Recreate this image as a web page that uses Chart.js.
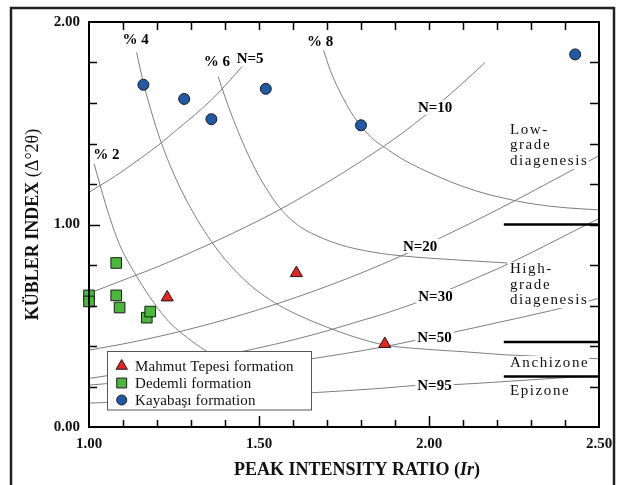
<!DOCTYPE html>
<html>
<head>
<meta charset="utf-8">
<script src="https://cdn.jsdelivr.net/npm/chart.js@4.4.1/dist/chart.umd.min.js"></script>
<style>
  html, body { margin: 0; padding: 0; background: #fff; }
  #wrap { position: relative; width: 623px; height: 485px; }
</style>
</head>
<body>
<div id="wrap"><canvas id="kubler"></canvas></div>
<script>
// Samples: peak intensity ratio (Ir) against Kübler index
const mahmutIr = [1.23, 1.61, 1.87];
const mahmutKi = [0.64, 0.76, 0.41];
const dedemliIr = [1.00, 1.00, 1.08, 1.08, 1.09, 1.17, 1.18];
const dedemliKi = [0.65, 0.62, 0.81, 0.65, 0.59, 0.54, 0.57];
const kayabasiIr = [1.16, 1.28, 1.36, 1.52, 1.80, 2.43];
const kayabasiKi = [1.69, 1.62, 1.52, 1.67, 1.49, 1.84];

// Crystallite thickness lines (N = layers)
const lineN5 = [[1.00,1.16],[1.05,1.21],[1.10,1.265],[1.15,1.325],[1.21,1.40],[1.26,1.47],[1.31,1.54],[1.36,1.615],[1.40,1.685],[1.45,1.78]];
const lineN10 = [[1.00,0.66],[1.10,0.725],[1.20,0.79],[1.35,0.90],[1.50,1.02],[1.57,1.082],[1.65,1.158],[1.735,1.243],[1.80,1.312],[1.87,1.39],[1.93,1.462],[1.98,1.527],[2.02,1.582],[2.07,1.655],[2.12,1.73],[2.165,1.80]];
const lineN20 = [[1.00,0.38],[1.10,0.41],[1.20,0.445],[1.30,0.485],[1.40,0.53],[1.50,0.58],[1.60,0.635],[1.70,0.695],[1.80,0.76],[1.86,0.802],[1.92,0.846],[1.97,0.884],[2.03,0.931],[2.10,0.988],[2.20,1.072],[2.30,1.16],[2.415,1.263],[2.50,1.34]];
const lineN30 = [[1.00,0.24],[1.10,0.265],[1.20,0.29],[1.30,0.32],[1.40,0.355],[1.49,0.387],[1.60,0.43],[1.70,0.475],[1.80,0.525],[1.87,0.56],[1.96,0.612],[2.02,0.65],[2.075,0.69],[2.20,0.78],[2.30,0.86],[2.40,0.945],[2.50,1.03]];
const lineN50 = [[1.00,0.207],[1.20,0.235],[1.40,0.27],[1.55,0.305],[1.655,0.337],[1.75,0.362],[1.87,0.397],[1.96,0.428],[2.02,0.45],[2.07,0.467],[2.20,0.515],[2.36,0.575],[2.47,0.622],[2.50,0.636]];
const lineN95 = [[1.00,0.118],[1.20,0.13],[1.40,0.145],[1.655,0.169],[1.86,0.191],[1.96,0.205],[2.07,0.209],[2.20,0.222],[2.30,0.233],[2.42,0.246],[2.50,0.25]];

// Percentage lines
const linePct2 = [[1.015,1.30],[1.035,1.18],[1.06,1.04],[1.09,0.90],[1.14,0.745],[1.19,0.615],[1.235,0.52],[1.29,0.44],[1.34,0.38],[1.42,0.31],[1.50,0.26]];
const linePct4 = [[1.14,1.85],[1.16,1.70],[1.19,1.52],[1.22,1.37],[1.26,1.21],[1.30,1.078],[1.34,0.966],[1.38,0.87],[1.42,0.79],[1.46,0.722],[1.50,0.666],[1.56,0.60],[1.62,0.549],[1.70,0.493],[1.78,0.445],[1.87,0.405],[2.00,0.383],[2.10,0.372],[2.23,0.356],[2.50,0.337]];
const linePct6 = [[1.38,1.73],[1.40,1.63],[1.43,1.495],[1.46,1.375],[1.49,1.27],[1.53,1.155],[1.57,1.065],[1.62,0.99],[1.69,0.93],[1.76,0.89],[1.86,0.857],[1.92,0.845],[2.00,0.834],[2.10,0.823],[2.23,0.81]];
const linePct8 = [[1.69,1.86],[1.71,1.76],[1.735,1.665],[1.78,1.53],[1.83,1.43],[1.87,1.38],[1.93,1.315],[1.99,1.265],[2.06,1.213],[2.14,1.165],[2.22,1.13],[2.30,1.103],[2.40,1.083],[2.50,1.072]];

const curveLabels = ['% 2', '% 4', '% 6', '% 8', 'N=5', 'N=10', 'N=20', 'N=30', 'N=50', 'N=95'];
const curveLabelAt = [[1.051,1.35],[1.137,1.916],[1.376,1.805],[1.680,1.906],[1.474,1.820],[2.018,1.578],[1.974,0.894],[2.019,0.647],[2.016,0.442],[2.016,0.205]];

// Zone limits (KI) and names
const zoneLimits = [1.00, 0.42, 0.25];
const zoneFrom = 2.22;
const zoneNames = [['Low-', 'grade', 'diagenesis'], ['High-', 'grade', 'diagenesis'], ['Anchizone'], ['Epizone']];
const zoneNameAt = [[2.238,1.447],[2.238,0.760],[2.238,0.296],[2.238,0.158]];

const serif = "'Liberation Serif', 'Times New Roman', serif";
const curveColor = '#7d7d7d';

const pts = pairs => pairs.map(p => ({ x: p[0], y: p[1] }));
const zip = (xs, ys) => xs.map((x, i) => ({ x: x, y: ys[i] }));
const isHalf = v => Math.abs(v * 2 - Math.round(v * 2)) < 1e-6;
const isWhole = v => Math.abs(v - Math.round(v)) < 1e-6;

const curves = [lineN5, lineN10, lineN20, lineN30, lineN50, lineN95, linePct2, linePct4, linePct6, linePct8].map(c => ({
    data: pts(c),
    showLine: true,
    borderColor: curveColor,
    borderWidth: 1,
    pointRadius: 0,
    cubicInterpolationMode: 'monotone'
}));

const zones = zoneLimits.map(v => ({
    data: [{ x: zoneFrom, y: v }, { x: 2.5, y: v }],
    showLine: true,
    borderColor: '#000',
    borderWidth: 2.5,
    pointRadius: 0
}));

const samples = [
    { label: 'Mahmut Tepesi formation', data: zip(mahmutIr, mahmutKi), pointStyle: 'triangle', pointRadius: 7,
      backgroundColor: '#e5231f', borderColor: '#1a1a1a', borderWidth: 1, clip: false },
    { label: 'Dedemli formation', data: zip(dedemliIr, dedemliKi), pointStyle: 'rect', pointRadius: 7.5,
      backgroundColor: '#49b83b', borderColor: '#1a1a1a', borderWidth: 1, clip: false },
    { label: 'Kayabaşı formation', data: zip(kayabasiIr, kayabasiKi), pointStyle: 'circle', pointRadius: 5.5,
      backgroundColor: '#1f5aa8', borderColor: '#1a1a1a', borderWidth: 1, clip: false }
];

const decor = {
    id: 'decor',
    afterDatasetsDraw(chart) {
        const ctx = chart.ctx, sx = chart.scales.x, sy = chart.scales.y;
        ctx.save();

        // captions on the curves, lines broken behind them
        ctx.font = `bold 15px ${serif}`;
        ctx.textAlign = 'center';
        ctx.textBaseline = 'middle';
        curveLabels.forEach((t, i) => {
            const px = sx.getPixelForValue(curveLabelAt[i][0]);
            const py = sy.getPixelForValue(curveLabelAt[i][1]);
            const w = ctx.measureText(t).width;
            ctx.fillStyle = '#fff';
            ctx.fillRect(px - w / 2 - 2, py - 7, w + 4, 14);
            ctx.fillStyle = '#000';
            ctx.fillText(t, px, py + 1);
        });

        // zone names
        ctx.font = `15px ${serif}`;
        ctx.letterSpacing = '1.6px';
        ctx.textAlign = 'left';
        ctx.textBaseline = 'alphabetic';
        zoneNames.forEach((lines, i) => {
            const px = sx.getPixelForValue(zoneNameAt[i][0]);
            let py = sy.getPixelForValue(zoneNameAt[i][1]);
            lines.forEach(t => {
                const w = ctx.measureText(t).width;
                ctx.fillStyle = '#fff';
                ctx.fillRect(px - 2, py - 11, w + 2, 15);
                ctx.fillStyle = '#111';
                ctx.fillText(t, px, py);
                py += 15.5;
            });
        });
        ctx.letterSpacing = '0px';

        // legend box
        const lx = 107.5, ly = 351.5, lw = 204, lh = 58.5;
        ctx.fillStyle = '#fff';
        ctx.fillRect(lx, ly, lw, lh);
        ctx.strokeStyle = '#555';
        ctx.lineWidth = 1;
        ctx.strokeRect(lx, ly, lw, lh);
        ctx.font = `15px ${serif}`;
        ctx.letterSpacing = '0.1px';
        ctx.textBaseline = 'middle';
        chart.data.datasets.slice(0, 3).forEach((ds, i) => {
            const cy = 366 + i * 17;
            ctx.fillStyle = ds.backgroundColor;
            ctx.strokeStyle = ds.borderColor;
            ctx.lineWidth = 1;
            Chart.helpers.drawPoint(ctx, { pointStyle: ds.pointStyle, radius: ds.pointRadius - 0.5, borderWidth: 1, rotation: 0 }, 121.7, cy);
            ctx.fillStyle = '#111';
            ctx.fillText(ds.label, 135, cy + 1);
        });
        ctx.restore();
    },
    afterDraw(chart) {
        const ctx = chart.ctx, ca = chart.chartArea, sx = chart.scales.x, sy = chart.scales.y;
        ctx.save();

        // plot frame and inward ticks
        ctx.strokeStyle = '#000';
        ctx.lineWidth = 2;
        ctx.strokeRect(ca.left, ca.top, ca.right - ca.left, ca.bottom - ca.top);
        ctx.lineWidth = 1.5;
        ctx.beginPath();
        sx.ticks.forEach(t => {
            const px = Math.round(sx.getPixelForValue(t.value)) + 0.5;
            if (px <= ca.left + 1 || px >= ca.right - 1) return;
            const len = isHalf(t.value) ? 11 : 7;
            ctx.moveTo(px, ca.bottom); ctx.lineTo(px, ca.bottom - len);
            ctx.moveTo(px, ca.top); ctx.lineTo(px, ca.top + 8);
        });
        sy.ticks.forEach(t => {
            const py = Math.round(sy.getPixelForValue(t.value)) + 0.5;
            if (py <= ca.top + 1 || py >= ca.bottom - 1) return;
            const len = isWhole(t.value) ? 11 : 8;
            ctx.moveTo(ca.left, py); ctx.lineTo(ca.left + len, py);
            ctx.moveTo(ca.right, py); ctx.lineTo(ca.right - 9, py);
        });
        ctx.stroke();

        // axis titles
        ctx.fillStyle = '#111';
        ctx.textBaseline = 'alphabetic';
        ctx.textAlign = 'left';
        const xParts = [['PEAK INTENSITY RATIO (', `bold 18px ${serif}`], ['Ir', `italic bold 18px ${serif}`], [')', `bold 18px ${serif}`]];
        let total = 0;
        xParts.forEach(p => { ctx.font = p[1]; total += ctx.measureText(p[0]).width; });
        let cx = 357 - total / 2;
        xParts.forEach(p => { ctx.font = p[1]; ctx.fillText(p[0], cx, 475); cx += ctx.measureText(p[0]).width; });

        const yParts = [['KÜBLER INDEX ', `bold 18px ${serif}`], ['(Δ°2θ)', `18px ${serif}`]];
        total = 0;
        yParts.forEach(p => { ctx.font = p[1]; total += ctx.measureText(p[0]).width; });
        ctx.translate(38, (ca.top + ca.bottom) / 2);
        ctx.rotate(-Math.PI / 2);
        cx = -total / 2;
        yParts.forEach(p => { ctx.font = p[1]; ctx.fillText(p[0], cx, 0); cx += ctx.measureText(p[0]).width; });
        ctx.setTransform(1, 0, 0, 1, 0, 0);

        // outer figure frame
        ctx.strokeStyle = '#222';
        ctx.lineWidth = 2.5;
        ctx.strokeRect(11, 8, 603, 500);
        ctx.restore();
    }
};

new Chart(document.getElementById('kubler'), {
    type: 'scatter',
    data: { datasets: samples.concat(zones, curves) },
    options: {
        responsive: true,
        maintainAspectRatio: false,
        animation: false,
        layout: { padding: { left: 0, right: 24, top: 22, bottom: 0 } },
        plugins: { legend: { display: false }, tooltip: { enabled: false } },
        scales: {
            x: {
                type: 'linear', min: 1, max: 2.5,
                grid: { display: false, drawTicks: false },
                border: { display: false },
                ticks: {
                    stepSize: 0.1, autoSkip: false, maxRotation: 0, padding: 8, color: '#111',
                    font: { family: serif, size: 15, weight: 'bold' },
                    callback: v => isHalf(v) ? v.toFixed(2) : ''
                },
                afterFit: s => { s.height = 58; }
            },
            y: {
                type: 'linear', min: 0, max: 2,
                grid: { display: false, drawTicks: false },
                border: { display: false },
                ticks: {
                    stepSize: 0.2, autoSkip: false, padding: 9, color: '#111',
                    font: { family: serif, size: 15, weight: 'bold' },
                    callback: v => isWhole(v) ? v.toFixed(2) : ''
                },
                afterFit: s => { s.width = 89; }
            }
        }
    },
    plugins: [decor]
});
</script>
</body>
</html>
